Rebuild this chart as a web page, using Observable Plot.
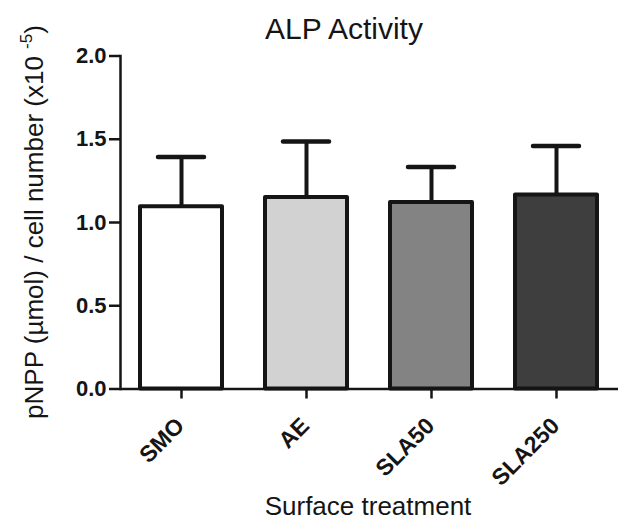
<!DOCTYPE html>
<html><head><meta charset="utf-8">
<script src="https://cdn.jsdelivr.net/npm/d3@7"></script>
<script src="https://cdn.jsdelivr.net/npm/@observablehq/plot@0.6"></script>
<style>html,body{margin:0;padding:0;background:#fff;} svg{display:block;}</style>
</head><body><div id="chart"></div>
<script>
const categories = ["SMO", "AE", "SLA50", "SLA250"];
const means = [1.095, 1.15, 1.12, 1.165];
const errors = [0.298, 0.336, 0.214, 0.295];
const fills = ["#ffffff", "#d2d2d2", "#838383", "#3e3e3e"];
const yTicks = [0, 0.5, 1.0, 1.5, 2.0];
const title = "ALP Activity";
const xLabel = "Surface treatment";
const yLabelMain = "pNPP (µmol) / cell number (x10 ";
const yLabelSup = "-5";
const yLabelEnd = ")";

const data = categories.map((c, i) => ({cat: c, mean: means[i], top: means[i] + errors[i], fill: fills[i]}));
const font = "'Liberation Sans', Arial, Helvetica, sans-serif";
const ink = "#151515";

const plot = Plot.plot({
  width: 618, height: 522,
  marginLeft: 120, marginRight: 0, marginTop: 55.5, marginBottom: 133.5,
  style: {fontFamily: font, fontSize: "22px", background: "#fff", color: ink, overflow: "visible"},
  x: {domain: categories, paddingInner: 0.34, paddingOuter: 0.162},
  y: {domain: [0, 2]},
  marks: [
    Plot.ruleX(data, {x: "cat", y1: "mean", y2: "top", stroke: ink, strokeWidth: 4}),
    Plot.tickY(data, {x: "cat", y: "top", stroke: ink, strokeWidth: 4.5, strokeLinecap: "round", insetLeft: 18, insetRight: 18}),
    Plot.barY(data, {x: "cat", y: "mean", fill: "fill", stroke: ink, strokeWidth: 4, strokeLinejoin: "round"}),
    Plot.axisY({ticks: yTicks, tickFormat: d3.format(".1f"), tickSize: 11, tickPadding: 3, fontSize: 22, fontWeight: "bold", strokeWidth: 2.5, label: null}),
    Plot.axisX({tickSize: 10, tickFormat: () => "", strokeWidth: 2.5, label: null}),
    Plot.frame({anchor: "left", stroke: ink, strokeWidth: 2.5}),
    Plot.ruleY([0], {stroke: ink, strokeWidth: 2.5}),
    Plot.text(data, {x: "cat", y: () => 0, text: "cat", rotate: -45, textAnchor: "end", dx: -1, dy: 33, fontSize: 23, fontWeight: "bold", fill: ink})
  ]
});

const svg = d3.select(plot);
svg.append("text")
  .attr("x", 344).attr("y", 38.5)
  .attr("text-anchor", "middle")
  .attr("font-family", font).attr("font-size", 30).attr("fill", ink)
  .text(title);
svg.append("text")
  .attr("x", 368).attr("y", 515)
  .attr("text-anchor", "middle")
  .attr("font-family", font).attr("font-size", 26).attr("fill", ink)
  .text(xLabel);
const yl = svg.append("text")
  .attr("transform", "translate(43,222) rotate(-90)")
  .attr("text-anchor", "middle")
  .attr("font-family", font).attr("font-size", 26).attr("fill", ink);
yl.append("tspan").text(yLabelMain);
yl.append("tspan").attr("font-size", 17).attr("dy", -11).text(yLabelSup);
yl.append("tspan").attr("dy", 11).text(yLabelEnd);

document.getElementById("chart").appendChild(plot);
</script>
</body></html>
